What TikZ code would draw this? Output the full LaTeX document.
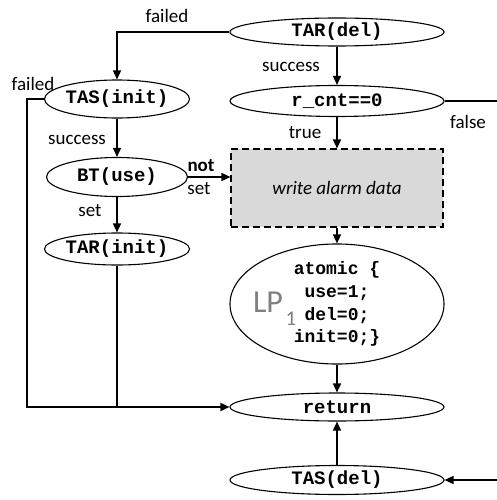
\documentclass[tikz,border=0pt]{standalone}
\usepackage{fontspec}
\setmainfont{Carlito}
\setmonofont{Liberation Mono}
\usetikzlibrary{arrows.meta,shapes.geometric}
\definecolor{boxgray}{HTML}{D9D9D9}
\definecolor{lpgray}{HTML}{808080}
\tikzset{
  ell/.style={ellipse,draw,line width=1.1pt,inner sep=0pt,minimum width=214pt,minimum height=28pt,
    font=\fontsize{19}{22}\selectfont\ttfamily\bfseries},
  sell/.style={ell,minimum width=141pt},
  conn/.style={line width=1.6pt},
  arr/.style={conn,-{Triangle[length=9pt,width=8pt]}},
  lbl/.style={inner sep=0pt,font=\fontsize{19}{22}\selectfont},
}
\begin{document}
\begin{tikzpicture}[x=1pt,y=-1pt]
\useasboundingbox (0,0) rectangle (497,500);
% right column
\node[ell] (tardel) at (337,32) {TAR(del)};
\node[ell,minimum height=31pt] (rcnt) at (337,101) {r\_cnt==0};
\node[draw,dash pattern=on 7pt off 4pt,line width=1.1pt,fill=boxgray,minimum width=212pt,minimum height=78pt,inner sep=0pt,
  font=\fontsize{19}{22}\selectfont\itshape] (wad) at (337,188) {write alarm data};
\node[ell,minimum height=105pt,font=\fontsize{18}{22.7}\selectfont\ttfamily\bfseries,align=center] (atomic) at (337,304)
  {atomic \{\\use=1;\\del=0;\\init=0;\}};
\node[lbl,text=lpgray,font=\fontsize{32}{32}\selectfont] (lp) at (268,302) {LP};
\node[lbl,text=lpgray,font=\fontsize{21}{21}\selectfont] (lpsub) at (291,318.5) {1};
\node[ell] (ret) at (337,407) {return};
\node[ell,minimum height=29pt] (tasdel) at (337,480) {TAS(del)};
% left column
\node[sell,minimum height=38pt] (tasinit) at (117,99) {TAS(init)};
\node[sell,minimum height=39pt] (btuse) at (117,177) {BT(use)};
\node[sell,minimum height=32pt] (tarinit) at (117,249) {TAR(init)};
% free ends
\coordinate (rfalse) at (497,101);
\coordinate (rin) at (497,480);
\coordinate (lcorner) at (27,99);
\coordinate (join) at (117,407);
% connectors
\draw[arr] (tardel) -- (rcnt);
\draw[arr] (rcnt) -- (wad);
\draw[arr] (wad) -- (atomic);
\draw[arr] (atomic) -- (ret);
\draw[arr] (tasdel) -- (ret);
\draw[conn] (rcnt.east) -- (rfalse);
\draw[arr] (rin) -- (tasdel.east);
\draw[arr] (tardel.west) -| (tasinit.north);
\draw[arr] (tasinit) -- (btuse);
\draw[arr] (btuse) -- (tarinit);
\draw[arr] (btuse.east) -- (btuse.east -| wad.west);
\draw[arr] (tasinit.west) -- (lcorner) |- (ret.west);
\draw[conn] (tarinit.south) -- (join);
% labels
\node[lbl] at (167,16) {failed};
\node[lbl] at (33,84) {failed};
\node[lbl] at (77,140) {success};
\node[lbl] at (90,211) {set};
\node[lbl,font=\fontsize{19}{22}\selectfont\bfseries] at (201,166) {not};
\node[lbl] at (199,189) {set};
\node[lbl] at (291,67) {success};
\node[lbl] at (305,133) {true};
\node[lbl] at (468,122) {false};
\end{tikzpicture}
\end{document}
